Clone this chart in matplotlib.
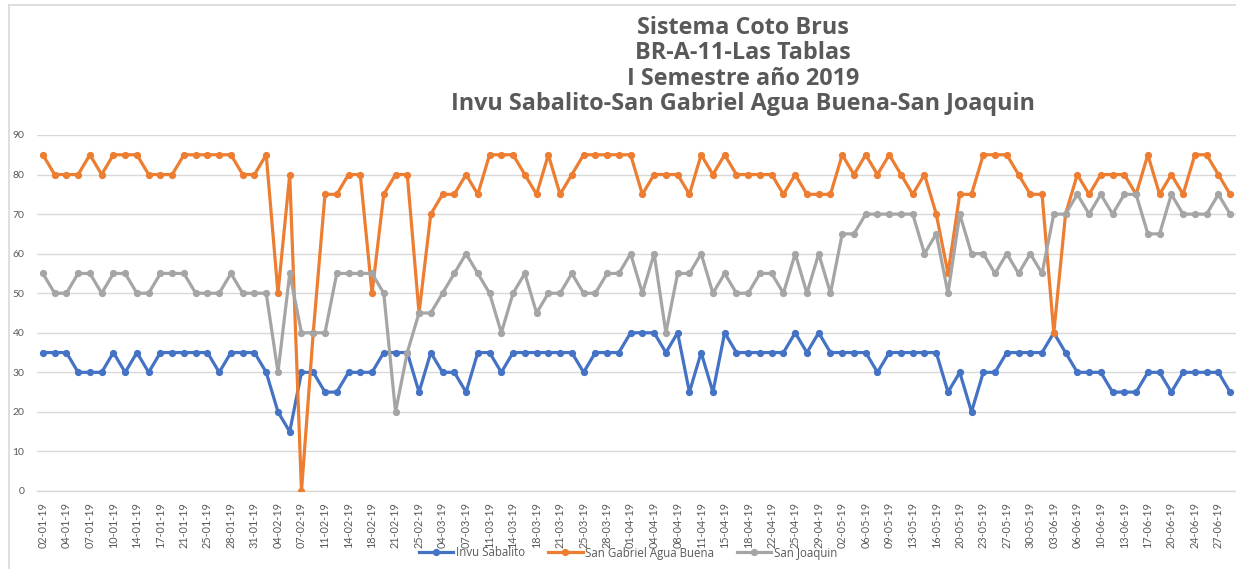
import matplotlib
matplotlib.use("Agg")
import matplotlib.pyplot as plt
from matplotlib.lines import Line2D
import numpy as np

plt.rcParams['font.family'] = ['Lato', 'DejaVu Sans']

title_lines = ["Sistema Coto Brus", "BR-A-11-Las Tablas", "I Semestre año 2019",
               "Invu Sabalito-San Gabriel Agua Buena-San Joaquin"]

tick_labels = ["02-01-19", "04-01-19", "07-01-19", "10-01-19", "14-01-19", "17-01-19",
               "21-01-19", "25-01-19", "28-01-19", "31-01-19", "04-02-19", "07-02-19",
               "11-02-19", "14-02-19", "18-02-19", "21-02-19", "25-02-19", "04-03-19",
               "07-03-19", "11-03-19", "14-03-19", "18-03-19", "21-03-19", "25-03-19",
               "28-03-19", "01-04-19", "04-04-19", "08-04-19", "11-04-19", "15-04-19",
               "18-04-19", "22-04-19", "25-04-19", "29-04-19", "02-05-19", "06-05-19",
               "09-05-19", "13-05-19", "16-05-19", "20-05-19", "23-05-19", "27-05-19",
               "30-05-19", "03-06-19", "06-06-19", "10-06-19", "13-06-19", "17-06-19",
               "20-06-19", "24-06-19", "27-06-19"]

series_names = ["Invu Sabalito", "San Gabriel Agua Buena", "San Joaquin"]

invu_sabalito = [35, 35, 35, 30, 30, 30, 35, 30, 35, 30, 35, 35, 35, 35, 35, 30, 35, 35, 35, 30,
                 20, 15, 30, 30, 25, 25, 30, 30, 30, 35, 35, 35, 25, 35, 30, 30, 25, 35, 35, 30,
                 35, 35, 35, 35, 35, 35, 30, 35,
                 35, 35, 40, 40, 40, 35, 40, 25, 35, 25, 40, 35, 35, 35, 35, 35, 40, 35, 40, 35,
                 35, 35, 35,
                 30, 35, 35, 35, 35, 35, 25, 30, 20, 30, 30, 35, 35, 35, 35, 40, 35, 30, 30, 30,
                 25, 25, 25, 30, 30, 25, 30, 30, 30, 30, 25]

san_gabriel = [85, 80, 80, 80, 85, 80, 85, 85, 85, 80, 80, 80, 85, 85, 85, 85, 85, 80, 80, 85,
               50, 80, 0, 40, 75, 75, 80, 80, 50, 75, 80, 80, 45, 70, 75, 75, 80, 75, 85, 85,
               85, 80, 75, 85, 75, 80, 85, 85,
               85, 85, 85, 75, 80, 80, 80, 75, 85, 80, 85, 80, 80, 80, 80, 75, 80, 75, 75, 75,
               85, 80, 85,
               80, 85, 80, 75, 80, 70, 55, 75, 75, 85, 85, 85, 80, 75, 75, 40, 70, 80, 75, 80,
               80, 80, 75, 85, 75, 80, 75, 85, 85, 80, 75]

san_joaquin = [55, 50, 50, 55, 55, 50, 55, 55, 50, 50, 55, 55, 55, 50, 50, 50, 55, 50, 50, 50,
               30, 55, 40, 40, 40, 55, 55, 55, 55, 50, 20, 35, 45, 45, 50, 55, 60, 55, 50, 40,
               50, 55, 45, 50, 50, 55, 50, 50,
               55, 55, 60, 50, 60, 40, 55, 55, 60, 50, 55, 50, 50, 55, 55, 50, 60, 50, 60, 50,
               65, 65, 70,
               70, 70, 70, 70, 60, 65, 50, 70, 60, 60, 55, 60, 55, 60, 55, 70, 70, 75, 70, 75,
               70, 75, 75, 65, 65, 75, 70, 70, 70, 75, 70]

colors = ["#4472C4", "#ED7D31", "#A5A5A5"]
text_color = "#595959"
grid_color = "#D9D9D9"

W, H = 1236, 569
fig = plt.figure(figsize=(W / 100, H / 100), dpi=100)
fig.patch.set_facecolor("white")

left, right, top, bottom = 37, 1236, 135, 491
ax = fig.add_axes([left / W, 1 - bottom / H, (right - left) / W, (bottom - top) / H])

x = np.arange(len(invu_sabalito))
for vals, name, c in zip([invu_sabalito, san_gabriel, san_joaquin], series_names, colors):
    ax.plot(x, vals, color=c, lw=2.3, marker="o", ms=4.2, label=name,
            solid_joinstyle="round", zorder=3)

ax.set_xlim(-0.5, len(x) - 0.5)
ax.set_ylim(0, 90)
ax.set_yticks(np.arange(0, 91, 10))
ax.yaxis.grid(True, color=grid_color, lw=1.0)
ax.set_axisbelow(True)
for s in ["top", "right", "left"]:
    ax.spines[s].set_visible(False)
ax.spines["bottom"].set_color(grid_color)
ax.spines["bottom"].set_linewidth(1.0)

ax.set_xticks(x[::2])
ax.set_xticklabels(tick_labels, rotation=90, fontsize=7.8, color=text_color)
ax.tick_params(axis="x", length=0, pad=8)
ax.tick_params(axis="y", length=0, pad=9, labelsize=7.5, labelcolor=text_color)

fig.text(0.601, 1 - 66 / H, "\n".join(title_lines), ha="center", va="center",
         fontsize=16.8, fontweight="bold", color=text_color, linespacing=1.07,
         family=["Open Sans", "DejaVu Sans"])

handles = [Line2D([], [], color=c, lw=2.3, marker="o", ms=4.2) for c in colors]
fig.legend(handles, series_names, loc="center", bbox_to_anchor=(628 / W, 1 - 553 / H),
           ncol=3, frameon=False, labelcolor=text_color,
           prop={"family": ["Open Sans", "DejaVu Sans"], "size": 8.3},
           handlelength=3.0, columnspacing=2.0, handletextpad=0.2)

# chart area border (left and top edges visible)
fig.add_artist(Line2D([9 / W, 9 / W], [0, 1 - 5 / H], color=grid_color, lw=1.2,
                      transform=fig.transFigure))
fig.add_artist(Line2D([9 / W, 1], [1 - 5 / H, 1 - 5 / H], color=grid_color, lw=1.2,
                      transform=fig.transFigure))

fig.savefig("out.png", dpi=100, facecolor="white")
